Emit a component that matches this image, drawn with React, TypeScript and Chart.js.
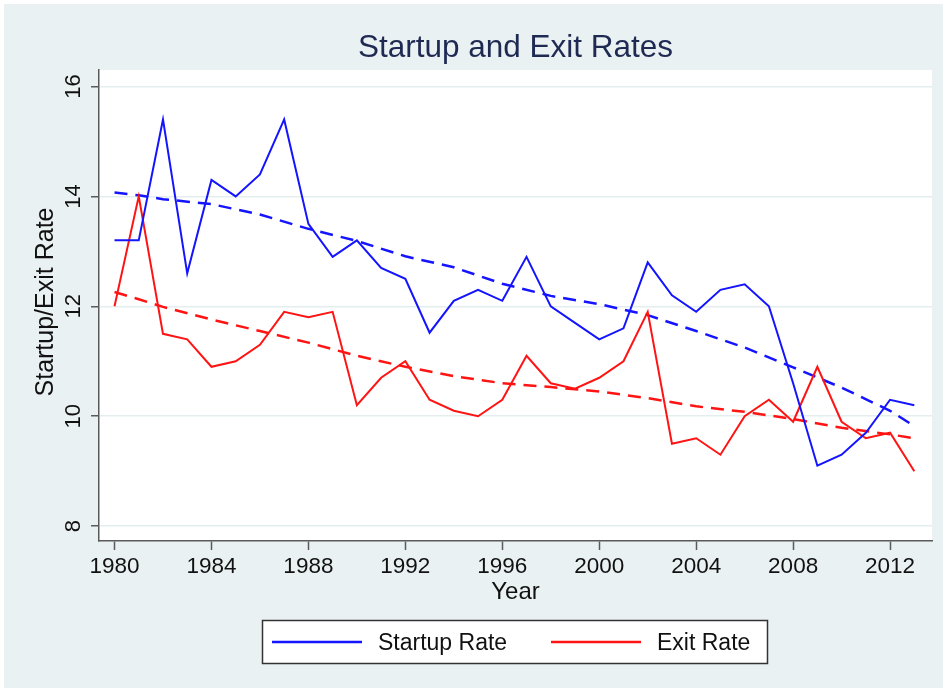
import React, { useEffect, useRef } from 'react';
import { Chart, registerables } from 'chart.js';

Chart.register(...registerables);

const years = [
  1980, 1981, 1982, 1983, 1984, 1985, 1986, 1987, 1988, 1989,
  1990, 1991, 1992, 1993, 1994, 1995, 1996, 1997, 1998, 1999,
  2000, 2001, 2002, 2003, 2004, 2005, 2006, 2007, 2008, 2009,
  2010, 2011, 2012, 2013,
];
const startupRate = [
  13.2, 13.2, 15.4, 12.6, 14.3, 14.0, 14.4, 15.4, 13.5, 12.9,
  13.2, 12.7, 12.5, 11.52, 12.1, 12.3, 12.1, 12.9, 12.0, 11.7,
  11.4, 11.6, 12.8, 12.2, 11.9, 12.3, 12.4, 12.0, 10.6, 9.1,
  9.3, 9.7, 10.3, 10.2,
];
const exitRate = [
  12.0, 14.0, 11.5, 11.4, 10.9, 11.0, 11.3, 11.9, 11.8, 11.9,
  10.2, 10.7, 11.0, 10.3, 10.1, 10.0, 10.3, 11.1, 10.6, 10.5,
  10.7, 11.0, 11.9, 9.5, 9.6, 9.3, 10.0, 10.3, 9.9, 10.9,
  9.9, 9.6, 9.7, 9.0,
];
const trendYears = [
  1980, 1981, 1982, 1984, 1986, 1988, 1990, 1992, 1994, 1996,
  1998, 2000, 2002, 2004, 2006, 2008, 2010, 2012, 2013,
];
const startupTrend = [
  14.07, 14.02, 13.95, 13.86, 13.67, 13.41, 13.19, 12.91, 12.71, 12.41,
  12.19, 12.04, 11.84, 11.55, 11.25, 10.89, 10.52, 10.1, 9.82,
];
const exitTrend = [
  12.26, 12.13, 11.99, 11.76, 11.55, 11.34, 11.1, 10.9, 10.73, 10.6,
  10.53, 10.45, 10.33, 10.18, 10.08, 9.95, 9.79, 9.67, 9.6,
];
const xTickLabels = [1980, 1984, 1988, 1992, 1996, 2000, 2004, 2008, 2012];
const yTickLabels = [8, 10, 12, 14, 16];
const titleText = 'Startup and Exit Rates';
const xAxisTitle = 'Year';
const yAxisTitle = 'Startup/Exit Rate';
const legendLabels = ['Startup Rate', 'Exit Rate'];

const W = 943;
const H = 691;
const PANEL = '#EAF1F3';
const GRID = '#E4EEEE';
const AXIS = '#5a5a5a';
const BLUE = '#1414ff';
const RED = '#ff1414';
const FONT = '"Liberation Sans", Arial, Helvetica, sans-serif';

const decor = {
  id: 'decor',
  beforeDraw(chart: any) {
    const { ctx, chartArea: a } = chart;
    ctx.save();
    ctx.fillStyle = '#ffffff';
    ctx.fillRect(0, 0, W, H);
    ctx.fillStyle = PANEL;
    ctx.fillRect(4, 4, W - 4, H - 7);
    ctx.fillStyle = '#ffffff';
    ctx.fillRect(a.left, a.top, a.right - a.left, a.bottom - a.top);
    ctx.restore();
  },
  afterDraw(chart: any) {
    const { ctx, chartArea: a } = chart;
    const xs = chart.scales.x;
    const ys = chart.scales.y;
    const cx = (a.left + a.right) / 2;
    ctx.save();
    // title
    ctx.fillStyle = '#1f2a52';
    ctx.font = `31.5px ${FONT}`;
    ctx.textAlign = 'center';
    ctx.textBaseline = 'alphabetic';
    ctx.fillText(titleText, cx, 57);

    ctx.fillStyle = '#111111';
    // x tick labels
    ctx.font = `22.5px ${FONT}`;
    xTickLabels.forEach((v) => {
      ctx.fillText(String(v), xs.getPixelForValue(v), 573);
    });
    // x title
    ctx.font = `24px ${FONT}`;
    ctx.fillText(xAxisTitle, cx, 599);
    // y tick labels
    ctx.font = `22px ${FONT}`;
    yTickLabels.forEach((v) => {
      ctx.save();
      ctx.translate(80, ys.getPixelForValue(v));
      ctx.rotate(-Math.PI / 2);
      ctx.fillText(String(v), 0, 0);
      ctx.restore();
    });
    // y title
    ctx.save();
    ctx.font = `25px ${FONT}`;
    ctx.translate(53, 302);
    ctx.rotate(-Math.PI / 2);
    ctx.fillText(yAxisTitle, 0, 0);
    ctx.restore();

    // legend
    ctx.fillStyle = '#ffffff';
    ctx.fillRect(262.5, 620.5, 505, 43);
    ctx.strokeStyle = '#333333';
    ctx.lineWidth = 1.5;
    ctx.strokeRect(262.5, 620.5, 505, 43);
    const items = [
      { color: BLUE, x0: 272, x1: 362, tx: 378, label: legendLabels[0] },
      { color: RED, x0: 551, x1: 641, tx: 657, label: legendLabels[1] },
    ];
    items.forEach((it) => {
      ctx.strokeStyle = it.color;
      ctx.lineWidth = 2.5;
      ctx.beginPath();
      ctx.moveTo(it.x0, 642);
      ctx.lineTo(it.x1, 642);
      ctx.stroke();
      ctx.fillStyle = '#111111';
      ctx.font = `23px ${FONT}`;
      ctx.textAlign = 'left';
      ctx.fillText(it.label, it.tx, 650);
    });
    ctx.restore();
  },
};

export default function App() {
  const ref = useRef<HTMLCanvasElement | null>(null);

  useEffect(() => {
    if (!ref.current) return;
    const toPts = (xsArr: number[], ysArr: number[]) => xsArr.map((x, i) => ({ x, y: ysArr[i] }));
    const chart = new Chart(ref.current, {
      type: 'line',
      data: {
        datasets: [
          {
            label: legendLabels[0],
            data: toPts(years, startupRate),
            borderColor: BLUE,
            borderWidth: 2,
            pointRadius: 0,
            tension: 0,
          },
          {
            label: legendLabels[1],
            data: toPts(years, exitRate),
            borderColor: RED,
            borderWidth: 2,
            pointRadius: 0,
            tension: 0,
          },
          {
            label: 'Startup trend',
            data: toPts(trendYears, startupTrend),
            borderColor: BLUE,
            borderWidth: 2.5,
            borderDash: [13, 8],
            pointRadius: 0,
            tension: 0,
          },
          {
            label: 'Exit trend',
            data: toPts(trendYears, exitTrend),
            borderColor: RED,
            borderWidth: 2.5,
            borderDash: [13, 8],
            pointRadius: 0,
            tension: 0,
          },
        ],
      },
      options: {
        animation: false,
        responsive: false,
        maintainAspectRatio: false,
        layout: { padding: { left: 0, top: 70, right: 11, bottom: 0 } },
        plugins: {
          legend: { display: false },
          title: { display: false },
          tooltip: { enabled: false },
        },
        scales: {
          x: {
            type: 'linear',
            min: 1979.36,
            max: 2013.73,
            afterBuildTicks: (s: any) => {
              s.ticks = xTickLabels.map((v) => ({ value: v }));
            },
            afterFit: (s: any) => {
              s.height = 150;
            },
            ticks: { display: false },
            grid: {
              drawOnChartArea: false,
              drawTicks: true,
              tickLength: 9,
              tickColor: AXIS,
              tickWidth: 1.5,
            },
            border: { color: AXIS, width: 1.5 },
          },
          y: {
            type: 'linear',
            min: 7.73,
            max: 16.3,
            afterBuildTicks: (s: any) => {
              s.ticks = yTickLabels.map((v) => ({ value: v }));
            },
            afterFit: (s: any) => {
              s.width = 99;
            },
            ticks: { display: false },
            grid: {
              drawOnChartArea: true,
              color: GRID,
              lineWidth: 1.5,
              drawTicks: true,
              tickLength: 8,
              tickColor: AXIS,
              tickWidth: 1.5,
            },
            border: { color: AXIS, width: 1.5 },
          },
        },
      },
      plugins: [decor],
    } as any);
    return () => chart.destroy();
  }, []);

  return (
    <div style={{ position: 'fixed', left: 0, top: 0, width: W, height: H }}>
      <canvas ref={ref} width={W} height={H} style={{ display: 'block' }} />
    </div>
  );
}
